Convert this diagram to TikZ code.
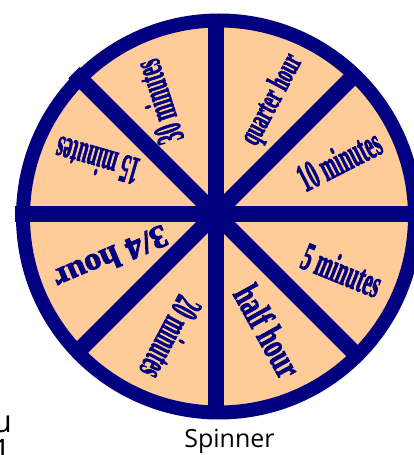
\documentclass[tikz,border=0pt]{standalone}
\usepackage{fontspec}
\setmainfont{Liberation Serif}
\newfontfamily\capsans{Open Sans}
\usetikzlibrary{positioning}
\definecolor{wheelnavy}{HTML}{000080}
\definecolor{peach}{HTML}{FFCC99}
% outlined glyphs, a little heavier
\newcommand\heavytext[1]{\special{pdf:literal direct 2 Tr 0.9 w}#1\special{pdf:literal direct 0 Tr}}

\begin{document}
\begin{tikzpicture}[x=1pt,y=1pt,
  slice/.style={text=wheelnavy,inner sep=0pt,font=\bfseries\fontsize{40}{40}\selectfont},
  caption/.style={inner sep=0pt,font=\capsans\fontsize{25}{25}\selectfont}]
  \useasboundingbox (-215.5,-241) rectangle (198.5,214);
  % wheel and spokes
  \draw[wheelnavy,line width=14pt,fill=peach] (3.5,-2.5) circle (196);
  \foreach \a in {0,45,90,135}
    \draw[wheelnavy,line width=16pt] (\a:200) -- (\a+180:200);
  % sector labels
  \node[slice,rotate=62,xscale=0.55,font=\bfseries\fontsize{32}{32}\selectfont] (quarter) at (57,114) {\heavytext{quarter hour}};
  \node[slice,rotate=27,xscale=0.48] (ten) at (123.5,54) {\heavytext{10 minutes}};
  \node[slice,rotate=-22,xscale=0.5] (five) at (126.5,-56) {\heavytext{5 minutes}};
  \node[slice,rotate=-61,xscale=0.66,font=\bfseries\fontsize{38}{38}\selectfont] (half) at (52.5,-117) {\heavytext{half hour}};
  \node[slice,rotate=-118,xscale=0.47] (twenty) at (-44.5,-124) {\heavytext{20 minutes}};
  \node[slice,rotate=-157,xscale=1.05,font=\bfseries\fontsize{32}{32}\selectfont] (threeq) at (-104.5,-44) {\heavytext{3/4 hour}};
  \node[slice,rotate=164,xscale=0.46] (fifteen) at (-118.5,53) {\heavytext{15 minutes}};
  \node[slice,rotate=108,xscale=0.46] (thirty) at (-57.5,112) {\heavytext{30 minutes}};
  % caption
  \node[caption,anchor=base] (spin) at (14,-233) {Spinner};
  \node[caption,anchor=base east,font=\capsans\fontsize{31}{31}\selectfont] (cutu) at (-203.5,-218) {u};
  \node[caption,anchor=base east,font=\capsans\fontsize{31}{31}\selectfont] (cutone) at (-204.5,-247) {1};
\end{tikzpicture}
\end{document}
